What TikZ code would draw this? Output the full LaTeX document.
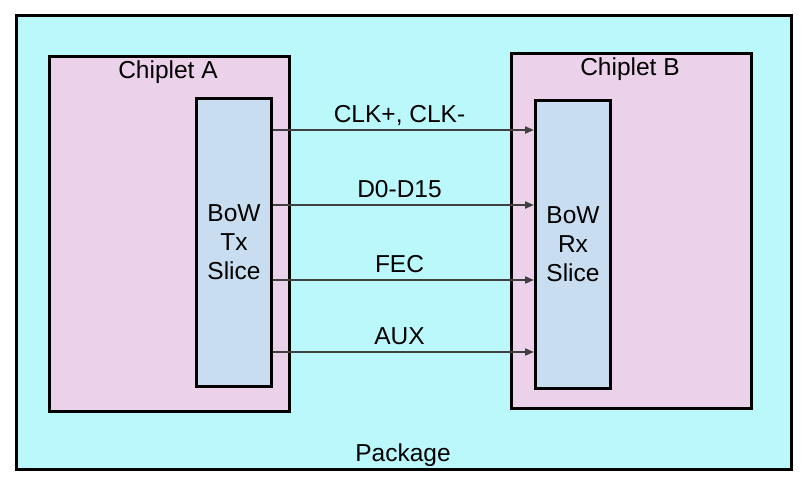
\documentclass[tikz,border=0pt]{standalone}
\usepackage{fontspec}
\setmainfont{Liberation Sans}
\usetikzlibrary{arrows.meta,positioning}
\definecolor{pkgcyan}{HTML}{BBF8FB}
\definecolor{chippink}{HTML}{ECD1EB}
\definecolor{sliceblue}{HTML}{C9DDF1}
\definecolor{wiregray}{HTML}{404040}
\tikzset{
  pkgbox/.style={draw,line width=3pt,fill=pkgcyan,minimum width=775pt,minimum height=454pt,inner sep=0pt},
  chipbox/.style={draw,line width=3pt,fill=chippink,minimum width=240pt,minimum height=355pt,inner sep=0pt},
  slicebox/.style={draw,line width=3pt,fill=sliceblue,minimum width=75pt,minimum height=288pt,align=center,inner sep=0pt},
  wire/.style={draw=wiregray,line width=2pt,-{Triangle[length=9pt,width=7pt]}},
  txt/.style={font=\fontsize{24.5}{29}\selectfont}
}
\begin{document}
\begin{tikzpicture}[x=1pt,y=-1pt,every node/.style={txt}]
\useasboundingbox (0,0) rectangle (808,488);
\node[pkgbox] (pkg) at (403.5,242) {};
\node[chipbox] (chipA) at (169,233.5) {};
\node[chipbox] (chipB) at (631,231) {};
\node[slicebox] (tx) at (234,242) {BoW\\Tx\\Slice};
\node[slicebox] (rx) at (573,244) {BoW\\Rx\\Slice};
\node (labA) at (168,72) {Chiplet A};
\node (labB) at (630,69) {Chiplet B};
\node (labP) at (403,455) {Package};
% links from Tx slice to Rx slice
\foreach \y/\t in {130/{CLK+, CLK-},205/D0-D15,280/FEC,352/AUX}
  \draw[wire] (tx.east |- 0,\y) -- node[anchor=base,yshift=8pt,xshift=-4pt]{\t} (rx.west |- 0,\y);
\end{tikzpicture}
\end{document}
